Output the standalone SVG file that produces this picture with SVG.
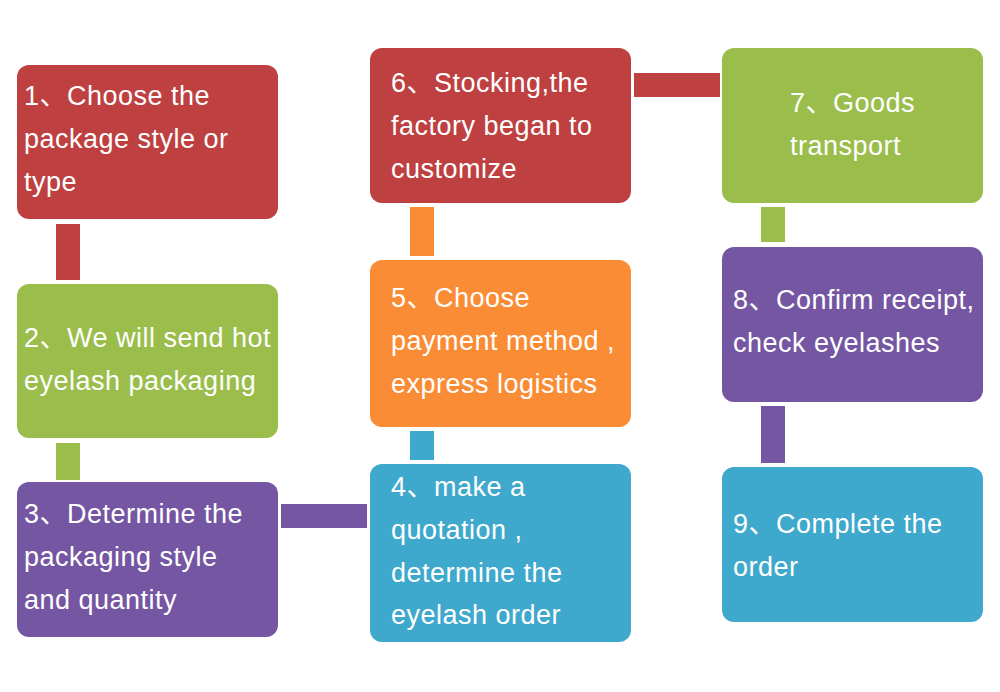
<svg xmlns="http://www.w3.org/2000/svg" width="1000" height="692" viewBox="0 0 1000 692">
<style>
.t{font-family:"Liberation Sans",Arial,"Noto Sans CJK SC",sans-serif;font-size:27px;fill:#ffffff;letter-spacing:0.5px}
.red{fill:#BE4040}
.green{fill:#9ABD4C}
.purple{fill:#7556A2}
.blue{fill:#3FA8CD}
.orange{fill:#FA8C35}
</style>
<rect width="1000" height="692" fill="#ffffff"/>
<g id="connectors">
<rect class="red" x="56" y="224" width="24" height="56"/>
<rect class="green" x="56" y="443" width="24" height="37"/>
<rect class="purple" x="281" y="504" width="86" height="24"/>
<rect class="blue" x="410" y="431" width="24" height="29"/>
<rect class="orange" x="410" y="207" width="24" height="49"/>
<rect class="red" x="634" y="73" width="86" height="24"/>
<rect class="green" x="761" y="207" width="24" height="35"/>
<rect class="purple" x="761" y="406" width="24" height="57"/>
</g>
<g id="node1">
<rect class="red" x="17" y="65" width="261" height="154" rx="12"/>
<text class="t" x="24" y="105">1、Choose the</text>
<text class="t" x="24" y="148">package style or</text>
<text class="t" x="24" y="191">type</text>
</g>
<g id="node2">
<rect class="green" x="17" y="284" width="261" height="154" rx="12"/>
<text class="t" x="24" y="347">2、We will send hot</text>
<text class="t" x="24" y="390">eyelash packaging</text>
</g>
<g id="node3">
<rect class="purple" x="17" y="482" width="261" height="155" rx="12"/>
<text class="t" x="24" y="523">3、Determine the</text>
<text class="t" x="24" y="566">packaging style</text>
<text class="t" x="24" y="609">and quantity</text>
</g>
<g id="node4">
<rect class="blue" x="370" y="464" width="261" height="178" rx="12"/>
<text class="t" x="391" y="496">4、make a</text>
<text class="t" x="391" y="539">quotation ,</text>
<text class="t" x="391" y="582">determine the</text>
<text class="t" x="391" y="624">eyelash order</text>
</g>
<g id="node5">
<rect class="orange" x="370" y="260" width="261" height="167" rx="12"/>
<text class="t" x="391" y="307">5、Choose</text>
<text class="t" x="391" y="350">payment method ,</text>
<text class="t" x="391" y="393">express logistics</text>
</g>
<g id="node6">
<rect class="red" x="370" y="48" width="261" height="155" rx="12"/>
<text class="t" x="391" y="92">6、Stocking,the</text>
<text class="t" x="391" y="135">factory began to</text>
<text class="t" x="391" y="178">customize</text>
</g>
<g id="node7">
<rect class="green" x="722" y="48" width="261" height="155" rx="12"/>
<text class="t" x="790" y="112">7、Goods</text>
<text class="t" x="790" y="155">transport</text>
</g>
<g id="node8">
<rect class="purple" x="722" y="247" width="261" height="155" rx="12"/>
<text class="t" x="733" y="309">8、Confirm receipt,</text>
<text class="t" x="733" y="352">check eyelashes</text>
</g>
<g id="node9">
<rect class="blue" x="722" y="467" width="261" height="155" rx="12"/>
<text class="t" x="733" y="533">9、Complete the</text>
<text class="t" x="733" y="576">order</text>
</g>
</svg>
